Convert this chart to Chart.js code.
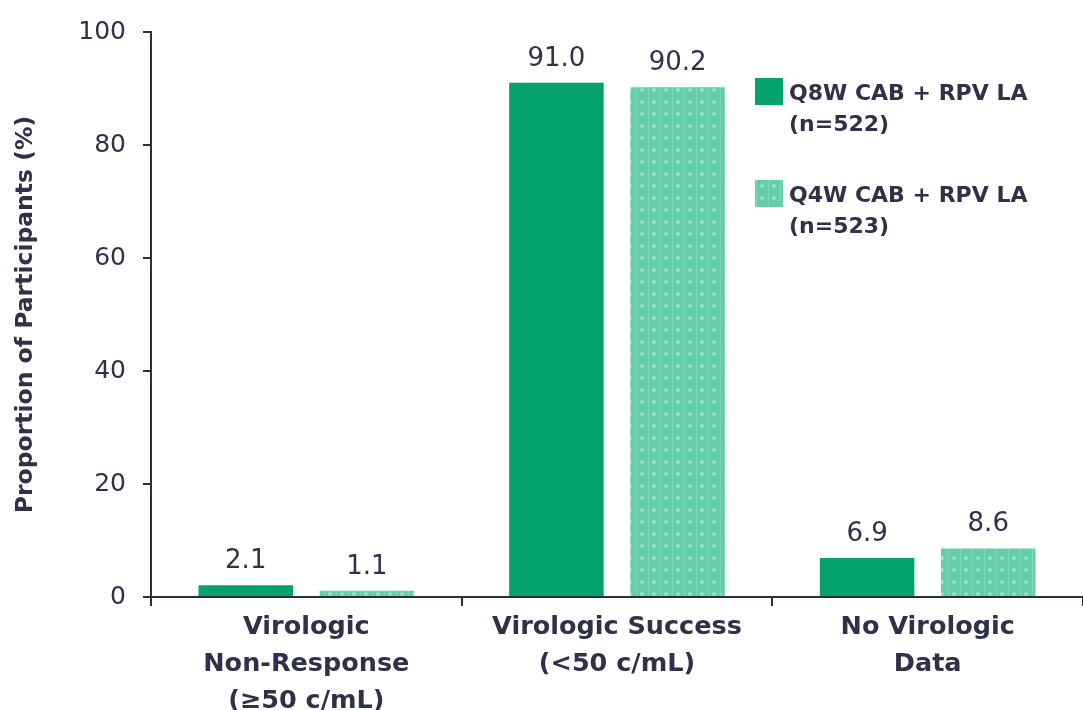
<!DOCTYPE html>
<html>
<head>
<meta charset="utf-8">
<title>Virologic outcomes by dosing arm</title>
<script src="https://cdn.jsdelivr.net/npm/chart.js@4.4.1/dist/chart.umd.min.js"></script>
<style>
  html, body { margin: 0; padding: 0; background: #ffffff; }
  #wrap { width: 1083px; height: 710px; }
</style>
</head>
<body>
<div id="wrap"><canvas id="chart" width="1083" height="710"></canvas></div>
<script>
// Outcome categories (x axis, multi-line labels)
const categories = [
  ['Virologic', 'Non-Response', '(≥50 c/mL)'],
  ['Virologic Success', '(<50 c/mL)'],
  ['No Virologic', 'Data']
];

// Proportion of participants (%) per arm
const q8wValues = [2.1, 91.0, 6.9];
const q4wValues = [1.1, 90.2, 8.6];

// Arm names and sample sizes
const seriesNames = ['Q8W CAB + RPV LA', 'Q4W CAB + RPV LA'];
const seriesSizes = ['(n=522)', '(n=523)'];

// Y axis
const yMin = 0;
const yMax = 100;
const yStep = 20;
const yTitle = 'Proportion of Participants (%)';

const NAVY = '#2b2e48';
const TEXT = '#2e3149';
const DARK_GREEN = '#03a26d';

// Dotted light-green fill for the Q4W arm
function makeDotPattern() {
  const c = document.createElement('canvas');
  c.width = 12; c.height = 12;
  const g = c.getContext('2d');
  g.fillStyle = '#64cea9';
  g.fillRect(0, 0, 12, 12);
  g.fillStyle = '#a3e5cd';
  g.beginPath();
  g.arc(6, 6, 1.8, 0, Math.PI * 2);
  g.fill();
  g.fillStyle = 'rgba(150,225,200,0.5)';
  g.fillRect(0, 0, 1, 12);
  return g.createPattern(c, 'repeat');
}
const dotPattern = makeDotPattern();

// Value labels above each bar
const valueLabels = {
  id: 'valueLabels',
  afterDatasetsDraw(chart) {
    const ctx = chart.ctx;
    ctx.save();
    ctx.font = '26px "DejaVu Sans"';
    ctx.fillStyle = TEXT;
    ctx.textAlign = 'center';
    ctx.textBaseline = 'middle';
    chart.data.datasets.forEach((ds, di) => {
      const meta = chart.getDatasetMeta(di);
      meta.data.forEach((bar, i) => {
        ctx.fillText(ds.data[i].toFixed(1), bar.x, bar.y - 24);
      });
    });
    ctx.restore();
  }
};

// Legend drawn inside the plot area, top right
const sideLegend = {
  id: 'sideLegend',
  afterDraw(chart) {
    const ctx = chart.ctx;
    ctx.save();
    const x0 = 755, boxW = 28, boxH = 27;
    const tops = [78, 180];
    chart.data.datasets.forEach((ds, di) => {
      const top = tops[di];
      ctx.fillStyle = ds.backgroundColor;
      ctx.fillRect(x0, top, boxW, boxH);
      ctx.fillStyle = TEXT;
      ctx.font = 'bold 22px "DejaVu Sans"';
      ctx.textAlign = 'left';
      ctx.textBaseline = 'middle';
      ctx.fillText(seriesNames[di], x0 + 34, top + 16);
      ctx.fillText(seriesSizes[di], x0 + 34, top + 47);
    });
    ctx.restore();
  }
};

new Chart(document.getElementById('chart'), {
  type: 'bar',
  data: {
    labels: categories,
    datasets: [
      { label: seriesNames[0], data: q8wValues, backgroundColor: DARK_GREEN, borderWidth: 0 },
      { label: seriesNames[1], data: q4wValues, backgroundColor: dotPattern, borderWidth: 0 }
    ]
  },
  options: {
    responsive: false,
    animation: false,
    layout: { padding: { top: 31, right: 0, bottom: 0, left: 0 } },
    datasets: { bar: { categoryPercentage: 0.78, barPercentage: 0.78 } },
    plugins: {
      legend: { display: false },
      tooltip: { enabled: false }
    },
    scales: {
      x: {
        grid: { drawOnChartArea: false, drawTicks: true, tickLength: 9, color: NAVY, lineWidth: 2, offset: true },
        border: { display: true, color: NAVY, width: 2 },
        ticks: {
          color: TEXT,
          font: { family: '"DejaVu Sans"', size: 25.5, weight: 'bold', lineHeight: 1.45 },
          padding: 3,
          maxRotation: 0,
          autoSkip: false
        },
        afterFit(scale) { scale.height = 113; }
      },
      y: {
        min: yMin,
        max: yMax,
        grid: { drawOnChartArea: false, drawTicks: true, tickLength: 8, color: NAVY, lineWidth: 2 },
        border: { display: true, color: NAVY, width: 2 },
        ticks: {
          stepSize: yStep,
          color: TEXT,
          font: { family: '"DejaVu Sans"', size: 25 },
          padding: 17
        },
        title: {
          display: true,
          text: yTitle,
          color: TEXT,
          font: { family: '"DejaVu Sans"', size: 23.5, weight: 'bold' },
          padding: { top: 12, bottom: 0 }
        },
        afterFit(scale) { scale.width = 151; }
      }
    }
  },
  plugins: [valueLabels, sideLegend]
});
</script>
</body>
</html>
